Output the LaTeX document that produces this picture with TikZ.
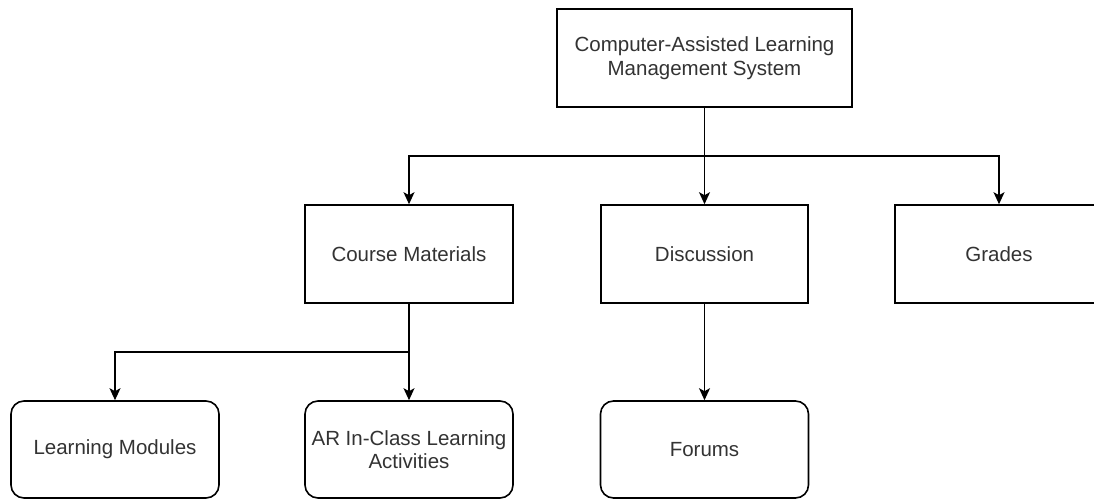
\documentclass[tikz,border=0pt]{standalone}
\usepackage{fontspec}
\setmainfont{Liberation Sans}
\usetikzlibrary{arrows.meta}
\definecolor{txt}{HTML}{333333}
\tikzset{
  box/.style={draw=black, line width=1.6pt, fill=white, minimum width=208pt, minimum height=98pt,
    inner sep=0pt, align=center, text=txt, font=\fontsize{20.5}{23.5}\selectfont},
  rbox/.style={box, rounded corners=13pt, minimum height=97pt},
  conn/.style={draw=black, line width=1.6pt},
  arr/.style={conn, -{Stealth[length=12pt, width=11pt, inset=3pt]}}
}
\begin{document}
\begin{tikzpicture}[x=1pt, y=-1pt]
\clip (0,0) rectangle (1094,500);
\fill[white] (0,0) rectangle (1094,500);
\node[box, minimum width=295pt] (top) at (704.5,58) {Computer-Assisted Learning\\Management System};
\node[box] (cm) at (409,254) {Course Materials};
\node[box, minimum width=207pt] (disc) at (704.5,254) {Discussion};
\node[box] (gr) at (999,254) {Grades};
\node[rbox] (lm) at (115,449.5) {Learning Modules};
\node[rbox] (ar) at (409,449.5) {AR In-Class Learning\\Activities};
\node[rbox] (fo) at (704.5,449.5) {Forums};
\coordinate (j1) at (704.5,156);
\coordinate (j2) at (409,352);
\draw[arr] (top.south) -- (disc.north);
\draw[arr] (j1) -| (cm.north);
\draw[arr] (j1) -| (gr.north);
\draw[arr] (cm.south) -- (ar.north);
\draw[arr] (j2) -| (lm.north);
\draw[arr] (disc.south) -- (fo.north);
\end{tikzpicture}
\end{document}
